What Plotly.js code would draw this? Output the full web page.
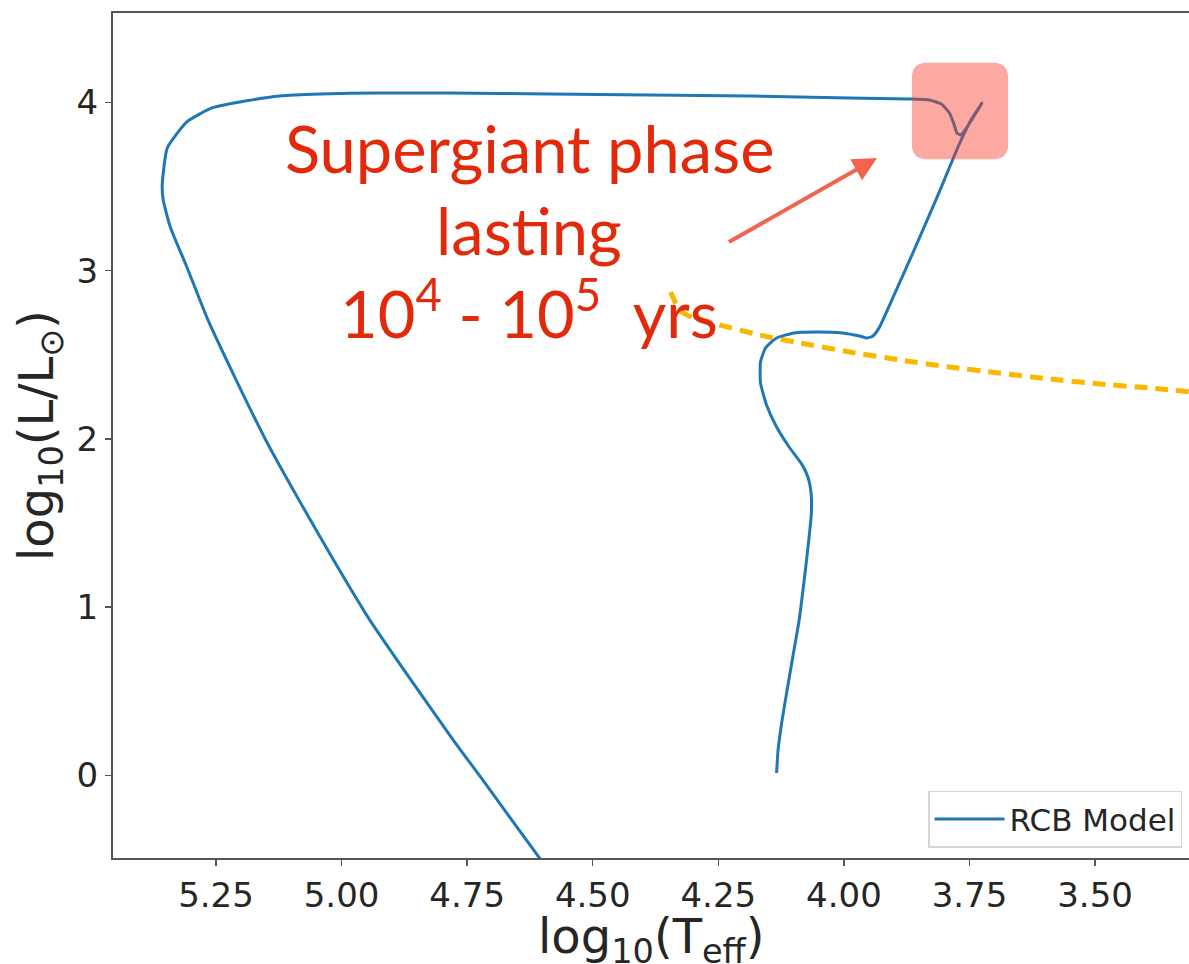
<!DOCTYPE html>
<html>
<head>
<meta charset="utf-8">
<script src="https://cdn.plot.ly/plotly-3.0.1.min.js"></script>
<style>
  html, body { margin: 0; padding: 0; background: #fff; }
  #chart { width: 1189px; height: 964px; }
</style>
</head>
<body>
<div id="chart"></div>
<script>
// RCB model evolutionary track in the HR diagram: log10(Teff) vs log10(L/Lsun)
const trackLogT = [
  4.134, 4.131, 4.123, 4.113, 4.101, 4.089, 4.079, 4.071, 4.065, 4.065,
  4.071, 4.083, 4.109, 4.134, 4.154, 4.166, 4.166, 4.156, 4.134, 4.099,
  4.053, 4.003, 3.969, 3.954, 3.942, 3.930, 3.900, 3.860, 3.810, 3.771,
  3.747, 3.725, 3.751, 3.767, 3.775, 3.781, 3.790, 3.806, 3.830, 3.870,
  3.989, 4.188, 4.387, 4.586, 4.785, 4.924, 5.043, 5.123, 5.192, 5.258,
  5.308, 5.347, 5.357, 5.355, 5.341, 5.308, 5.266, 5.210, 5.151, 5.085,
  5.016, 4.944, 4.862, 4.778, 4.719, 4.606, 4.566
];
const trackLogL = [
  0.015, 0.152, 0.330, 0.509, 0.717, 0.925, 1.162, 1.370, 1.548, 1.667,
  1.768, 1.846, 1.952, 2.071, 2.202, 2.333, 2.458, 2.541, 2.600, 2.630,
  2.636, 2.630, 2.612, 2.600, 2.612, 2.660, 2.856, 3.123, 3.468, 3.747,
  3.895, 3.996, 3.872, 3.806, 3.818, 3.872, 3.937, 3.990, 4.014, 4.020,
  4.026, 4.038, 4.044, 4.050, 4.056, 4.056, 4.050, 4.038, 4.008, 3.967,
  3.884, 3.729, 3.509, 3.420, 3.260, 3.022, 2.707, 2.351, 1.994, 1.638,
  1.281, 0.925, 0.568, 0.212, -0.026, -0.490, -0.650
];

// Dashed reference curve
const refLogT = [4.345, 4.335, 4.323, 4.298, 4.248, 4.168, 4.089, 3.989,
                 3.890, 3.790, 3.691, 3.592, 3.492, 3.393, 3.293];
const refLogL = [2.873, 2.808, 2.755, 2.719, 2.678, 2.618, 2.571, 2.517,
                 2.470, 2.428, 2.392, 2.357, 2.327, 2.303, 2.274];

const xTickVals = [5.25, 5.00, 4.75, 4.50, 4.25, 4.00, 3.75, 3.50];
const yTickVals = [0, 1, 2, 3, 4];

const xTitle = 'log<sub>10</sub>(T<sub>eff</sub>)';
const yTitle = 'log<sub>10</sub>(L/L<sub>⊙</sub>)';

const noteLines = [
  'Supergiant phase',
  'lasting',
  '10<sup>4</sup> - 10<sup>5</sup>&nbsp;&nbsp;yrs'
];

const xRange = [5.455, 3.313];
const yRange = [-0.49, 4.531];

const traces = [
  {
    x: refLogT, y: refLogL, type: 'scatter', mode: 'lines',
    line: { color: '#fbb700', width: 5, dash: '13px,8px', shape: 'spline', smoothing: 0.6 },
    showlegend: false, hoverinfo: 'skip'
  },
  {
    x: trackLogT, y: trackLogL, type: 'scatter', mode: 'lines',
    name: 'RCB Model',
    line: { color: '#1f77b4', width: 3, shape: 'spline', smoothing: 0.5 }
  }
];

// rounded highlight box around the supergiant tip
const box = { left: 3.8646, right: 3.6731, top: 4.236, bottom: 3.662, rx: 0.0298, ry: 0.089 };
function roundedBoxPath(b) {
  const { left: L, right: R, top: T, bottom: B, rx, ry } = b;
  return `M${L - rx},${T} L${R + rx},${T} Q${R},${T} ${R},${T - ry} ` +
         `L${R},${B + ry} Q${R},${B} ${R + rx},${B} ` +
         `L${L - rx},${B} Q${L},${B} ${L},${B + ry} ` +
         `L${L},${T - ry} Q${L},${T} ${L - rx},${T} Z`;
}

const noteFont = { family: 'Lato, "Open Sans", sans-serif', size: 65, color: '#e3290b' };
const noteX = 4.626;
const noteY = [3.729, 3.240, 2.770];

const annotations = noteLines.map((t, i) => ({
  x: noteX, y: noteY[i], xref: 'x', yref: 'y',
  text: t, showarrow: false, font: noteFont,
  xanchor: 'center', yanchor: 'middle'
}));

annotations.push({
  x: 3.934, y: 3.670, xref: 'x', yref: 'y',
  ax: 4.232, ay: 3.165, axref: 'x', ayref: 'y',
  text: '', showarrow: true,
  arrowhead: 2, arrowsize: 1.2, arrowwidth: 4, arrowcolor: '#f26350'
});

const axisFont = { family: 'DejaVu Sans, sans-serif', size: 34, color: '#262626' };
const titleFont = { family: 'DejaVu Sans, sans-serif', size: 48, color: '#262626' };

// x-axis title placed below the tick labels, near the page bottom
annotations.push({
  x: 0.5, y: -0.057, xref: 'paper', yref: 'paper',
  xanchor: 'center', yanchor: 'top',
  text: xTitle, showarrow: false, font: titleFont
});

const layout = {
  width: 1189, height: 964,
  margin: { l: 113, r: 0, t: 13, b: 106 },
  paper_bgcolor: '#fff', plot_bgcolor: '#fff',
  xaxis: {
    range: xRange,
    tickvals: xTickVals, tickformat: '.2f',
    ticks: 'outside', ticklen: 6, tickwidth: 1.5, tickcolor: '#555',
    showline: true, linecolor: '#555', linewidth: 2, mirror: true,
    showgrid: false, zeroline: false,
    tickfont: axisFont
  },
  yaxis: {
    range: yRange,
    tickvals: yTickVals,
    ticks: 'outside', ticklen: 6, tickwidth: 1.5, tickcolor: '#555',
    showline: true, linecolor: '#555', linewidth: 2, mirror: false,
    showgrid: false, zeroline: false,
    tickfont: axisFont,
    title: { text: yTitle, font: titleFont, standoff: 8 }
  },
  legend: {
    x: 0.9935, xanchor: 'right', y: 0.012, yanchor: 'bottom',
    bgcolor: 'rgba(255,255,255,0.9)', bordercolor: '#d5d5d5', borderwidth: 1.5,
    itemwidth: 70,
    font: { family: 'DejaVu Sans, sans-serif', size: 31, color: '#262626' }
  },
  shapes: [{
    type: 'path', xref: 'x', yref: 'y', layer: 'above',
    path: roundedBoxPath(box),
    fillcolor: 'rgba(248,59,36,0.43)', line: { width: 0 }
  }],
  annotations: annotations,
  showlegend: true
};

Plotly.newPlot('chart', traces, layout, { displayModeBar: false, staticPlot: true });
</script>
</body>
</html>
